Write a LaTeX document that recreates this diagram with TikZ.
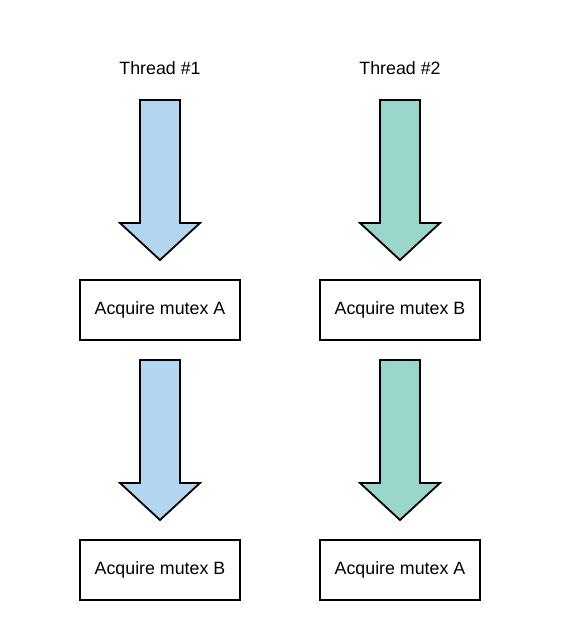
\documentclass[tikz,border=0pt]{standalone}
\usepackage{fontspec}
\setmainfont{Liberation Sans}
\definecolor{tblue}{HTML}{B3D6F0}
\definecolor{tgreen}{HTML}{9AD6CB}
\begin{document}
\begin{tikzpicture}[x=1pt,y=-1pt,
  box/.style={draw=black,line width=1.8pt,minimum width=160pt,minimum height=60pt,inner sep=0pt,font=\fontsize{17.8}{21}\selectfont},
  lbl/.style={inner sep=0pt,font=\fontsize{17.8}{21}\selectfont},
  fatarrow/.style={draw=black,line width=1.8pt,line join=miter}]
\useasboundingbox (0,0) rectangle (560,640);
\newcommand{\downarrowshape}[4]{% center x, top y, tip y, color
  \filldraw[fatarrow,fill=#4] (#1-20,#2) -- (#1+20,#2) -- (#1+20,#3-37) -- (#1+40,#3-37) -- (#1,#3) -- (#1-40,#3-37) -- (#1-20,#3-37) -- cycle;}
\node[lbl] (t1) at (160,68) {Thread \#1};
\node[lbl] (t2) at (400,68) {Thread \#2};
\downarrowshape{160}{100}{260}{tblue}
\downarrowshape{160}{360}{520}{tblue}
\downarrowshape{400}{100}{260}{tgreen}
\downarrowshape{400}{360}{520}{tgreen}
\node[box] (a1) at (160,310) {Acquire mutex A};
\node[box] (b1) at (160,570) {Acquire mutex B};
\node[box] (b2) at (400,310) {Acquire mutex B};
\node[box] (a2) at (400,570) {Acquire mutex A};
\end{tikzpicture}
\end{document}
